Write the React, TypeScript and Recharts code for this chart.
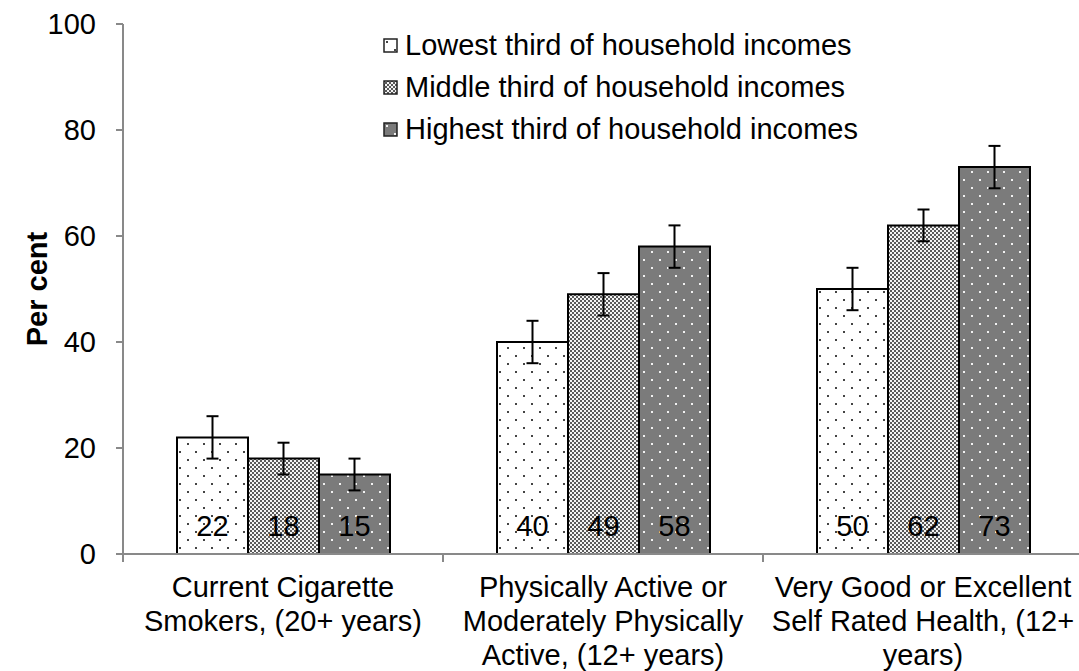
import React from "react";
import {
  BarChart,
  Bar,
  XAxis,
  YAxis,
  ErrorBar,
  LabelList,
  Legend,
  Label,
} from "recharts";

const categories = [
  "Current Cigarette Smokers, (20+ years)",
  "Physically Active or Moderately Physically Active, (12+ years)",
  "Very Good or Excellent Self Rated Health, (12+ years)",
];
const categoryLines = [
  ["Current Cigarette", "Smokers, (20+ years)"],
  ["Physically Active or", "Moderately Physically", "Active, (12+ years)"],
  ["Very Good or Excellent", "Self Rated Health, (12+", "years)"],
];
const seriesNames = [
  "Lowest third of household incomes",
  "Middle third of household incomes",
  "Highest third of household incomes",
];
const lowest = [22, 40, 50];
const middle = [18, 49, 62];
const highest = [15, 58, 73];
const lowestErr = [4, 4, 4];
const middleErr = [3, 4, 3];
const highestErr = [3, 4, 4];
const yTicks = [0, 20, 40, 60, 80, 100];

const data = categories.map((name, i) => ({
  name,
  low: lowest[i],
  mid: middle[i],
  high: highest[i],
  lowErr: lowestErr[i],
  midErr: middleErr[i],
  highErr: highestErr[i],
}));

const FONT = '"Liberation Sans", Arial, sans-serif';
const FS = 29;
const AXIS = "#898989";
const CHART_W = 1090;
const CHART_H = 671;
const MARGIN = { top: 24, right: 7, left: 0, bottom: 0 };
const Y_W = 123;
const X_H = 117;
const PLOT_W = CHART_W - MARGIN.right - Y_W;
const BAND = PLOT_W / categories.length;
const fills = ["url(#patLow)", "url(#patMid)", "url(#patHigh)"];

function CategoryTick(props: any) {
  const { x, y, payload } = props;
  const idx = categories.indexOf(payload.value);
  const lines = categoryLines[idx] || [];
  const bx = x - BAND / 2;
  return (
    <g>
      <line x1={bx} x2={bx} y1={y} y2={y + 8} stroke={AXIS} strokeWidth={2} />
      <text x={x} y={y} textAnchor="middle" fontSize={FS} fill="#000" fontFamily={FONT}>
        {lines.map((l, i) => (
          <tspan key={i} x={x} y={y + 43 + 34 * i}>
            {l}
          </tspan>
        ))}
      </text>
    </g>
  );
}

function LegendBox() {
  return (
    <div style={{ display: "flex", flexDirection: "column", fontFamily: FONT }}>
      {seriesNames.map((n, i) => (
        <div key={n} style={{ display: "flex", alignItems: "center", height: 42 }}>
          <svg width={15} height={15} style={{ marginRight: 7, display: "block" }}>
            <rect x={1} y={1} width={13} height={13} fill={fills[i]} stroke="#222" strokeWidth={1.5} />
          </svg>
          <span style={{ fontSize: FS, color: "#000", lineHeight: "42px", whiteSpace: "nowrap" }}>{n}</span>
        </div>
      ))}
    </div>
  );
}

export default function App() {
  return (
    <div
      style={{
        position: "absolute",
        left: 0,
        top: 0,
        width: 1079,
        height: 671,
        overflow: "hidden",
        background: "#fff",
      }}
    >
      <BarChart
        width={CHART_W}
        height={CHART_H}
        data={data}
        margin={MARGIN}
        barGap={0}
        barSize={71}
        style={{ fontFamily: FONT }}
      >
        <defs>
          <pattern id="patLow" width={16} height={16} patternUnits="userSpaceOnUse">
            <rect width={16} height={16} fill="#fff" />
            <rect x={3} y={3} width={2} height={2} fill="#444" />
            <rect x={11} y={11} width={2} height={2} fill="#444" />
          </pattern>
          <pattern id="patMid" width={4} height={4} patternUnits="userSpaceOnUse">
            <rect width={4} height={4} fill="#f4f4f4" />
            <rect x={0} y={0} width={2} height={2} fill="#5a5a5a" />
            <rect x={2} y={2} width={2} height={2} fill="#5a5a5a" />
          </pattern>
          <pattern id="patHigh" width={16} height={16} patternUnits="userSpaceOnUse">
            <rect width={16} height={16} fill="#7b7b7b" />
            <rect x={3} y={3} width={2} height={2} fill="#f2f2f2" />
            <rect x={11} y={11} width={2} height={2} fill="#f2f2f2" />
          </pattern>
        </defs>
        <XAxis
          dataKey="name"
          height={X_H}
          interval={0}
          tickLine={false}
          tickSize={0}
          tickMargin={0}
          axisLine={{ stroke: AXIS, strokeWidth: 2 }}
          tick={<CategoryTick />}
        />
        <YAxis
          width={Y_W}
          domain={[0, 100]}
          ticks={yTicks}
          interval={0}
          tickSize={7}
          tickMargin={20}
          axisLine={{ stroke: AXIS, strokeWidth: 2 }}
          tickLine={{ stroke: AXIS, strokeWidth: 2 }}
          tick={{ fontSize: FS, fill: "#000", fontFamily: FONT }}
        >
          <Label
            content={() => (
              <text
                x={47}
                y={289}
                transform="rotate(-90 47 289)"
                textAnchor="middle"
                fontSize={FS}
                fontWeight="bold"
                fill="#000"
                fontFamily={FONT}
              >
                Per cent
              </text>
            )}
          />
        </YAxis>
        <Legend
          layout="vertical"
          align="center"
          verticalAlign="middle"
          content={() => <LegendBox />}
          wrapperStyle={{ left: 383, top: 24, width: "auto", height: "auto" }}
        />
        <Bar dataKey="low" name={seriesNames[0]} fill={fills[0]} stroke="#000" strokeWidth={2} isAnimationActive={false}>
          <ErrorBar dataKey="lowErr" width={6} stroke="#000" strokeWidth={2} />
          <LabelList dataKey="low" position="insideBottom" offset={18} fill="#000" fontSize={FS} fontFamily={FONT} />
        </Bar>
        <Bar dataKey="mid" name={seriesNames[1]} fill={fills[1]} stroke="#000" strokeWidth={2} isAnimationActive={false}>
          <ErrorBar dataKey="midErr" width={6} stroke="#000" strokeWidth={2} />
          <LabelList dataKey="mid" position="insideBottom" offset={18} fill="#000" fontSize={FS} fontFamily={FONT} />
        </Bar>
        <Bar dataKey="high" name={seriesNames[2]} fill={fills[2]} stroke="#000" strokeWidth={2} isAnimationActive={false}>
          <ErrorBar dataKey="highErr" width={6} stroke="#000" strokeWidth={2} />
          <LabelList dataKey="high" position="insideBottom" offset={18} fill="#000" fontSize={FS} fontFamily={FONT} />
        </Bar>
      </BarChart>
    </div>
  );
}
